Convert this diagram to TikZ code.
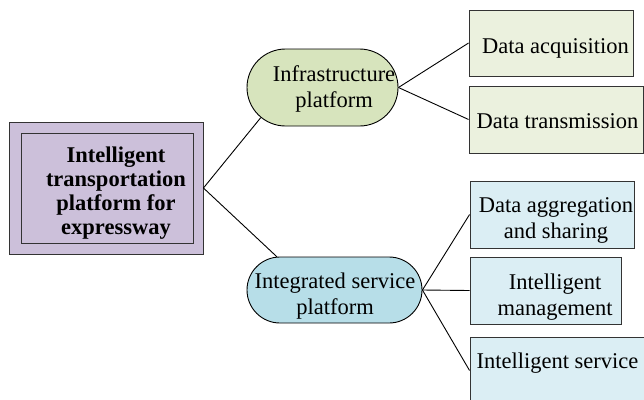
\documentclass[tikz,border=0pt]{standalone}
\usepackage{fontspec}
\setmainfont{Liberation Serif}
\usetikzlibrary{shapes.misc}
\definecolor{rootlilac}{HTML}{CCC0DA}
\definecolor{infragreen}{HTML}{D7E4BD}
\definecolor{leafgreen}{HTML}{EBF1DE}
\definecolor{servblue}{HTML}{B7DEE8}
\definecolor{leafblue}{HTML}{DBEEF4}
\definecolor{edgegrey}{HTML}{333333}
\begin{document}
\begin{tikzpicture}[x=1pt,y=-1pt,
  txt/.style={font=\fontsize{22.5}{26}\selectfont, align=center, inner sep=0pt},
  boldtxt/.style={font=\fontsize{22.5}{24}\selectfont\bfseries, align=center, inner sep=0pt},
  box/.style={draw=edgegrey, line width=0.9pt, inner sep=0pt, rectangle},
  capsule/.style={draw=black, line width=0.9pt, inner sep=0pt, rounded rectangle, rounded rectangle arc length=180},
  link/.style={draw=black, line width=0.9pt}]
\useasboundingbox (0,0) rectangle (644,399);

% root box with inner frame
\node[box, fill=rootlilac, minimum width=194pt, minimum height=132pt] (root) at (106,188) {};
\node[box, minimum width=172pt, minimum height=110pt] (rootin) at (107,188) {};
\node[boldtxt] (roott) at (116,193) {Intelligent\\transportation\\platform for\\expressway};

% second level platforms
\node[capsule, fill=infragreen, minimum width=151pt, minimum height=77pt] (infra) at (322.5,87.5) {};
\node[txt] (infrat) at (334,88.5) {Infrastructure\\platform};
\node[capsule, fill=servblue, minimum width=175pt, minimum height=66pt] (integ) at (334.5,290) {};
\node[txt] (integt) at (335,296) {Integrated service\\platform};

% leaves of the infrastructure platform
\node[box, fill=leafgreen, minimum width=164pt, minimum height=66pt] (acq) at (551,43) {};
\node[txt, anchor=base] (acqt) at (555.5,53) {Data acquisition};
\node[box, fill=leafgreen, minimum width=174pt, minimum height=67pt] (trans) at (556,119.5) {};
\node[txt, anchor=base] (transt) at (557.5,128) {Data transmission};

% leaves of the integrated service platform
\node[box, fill=leafblue, minimum width=164pt, minimum height=67pt] (aggr) at (552,214.5) {};
\node[txt] (aggrt) at (556,220) {Data aggregation\\and sharing};
\node[box, fill=leafblue, minimum width=151pt, minimum height=67pt] (mgmt) at (545.5,290.5) {};
\node[txt] (mgmtt) at (555,297) {Intelligent\\management};
\node[box, fill=leafblue, minimum width=174pt, minimum height=67pt] (serv) at (557,370.5) {};
\node[txt, anchor=base] (servt) at (557.5,368) {Intelligent service};

% connectors
\draw[link] (root.east) -- (infra.206);
\draw[link] (root.east) -- (integ.150);
\draw[link] (infra.east) -- (acq.west);
\draw[link] (infra.east) -- (trans.west);
\draw[link] (integ.east) -- (aggr.west);
\draw[link] (integ.east) -- (mgmt.west);
\draw[link] (integ.east) -- (serv.west);
\end{tikzpicture}
\end{document}
